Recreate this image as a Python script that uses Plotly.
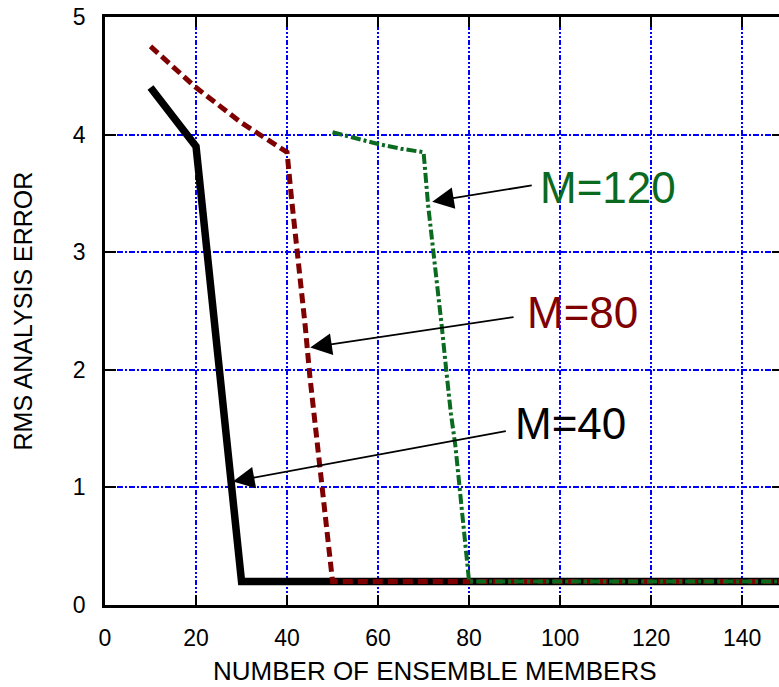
import plotly.graph_objects as go

# ---- data ----
m40_x = [10, 20, 30, 40, 50, 60, 70, 80, 90, 100, 110, 120, 130, 140, 150]
m40_y = [4.4, 3.9, 0.2, 0.2, 0.2, 0.2, 0.2, 0.2, 0.2, 0.2, 0.2, 0.2, 0.2, 0.2, 0.2]

m80_x = [10, 20, 30, 38, 40, 41, 42, 43, 44, 45, 46, 47, 48, 49, 50,
         60, 70, 80, 90, 100, 110, 120, 130, 140, 150]
m80_y = [4.75, 4.4, 4.1, 3.89, 3.85, 3.45, 3.12, 2.7, 2.37, 1.95, 1.6, 1.25, 0.88, 0.5, 0.2,
         0.2, 0.2, 0.2, 0.2, 0.2, 0.2, 0.2, 0.2, 0.2, 0.2]

m120_x = [50, 55, 60, 65, 70, 71, 72, 73, 74, 75, 76, 77, 78, 79, 80,
          90, 100, 110, 120, 130, 140, 150]
m120_y = [4.02, 3.97, 3.92, 3.88, 3.85, 3.4, 3.07, 2.67, 2.37, 1.99, 1.63, 1.35, 0.96, 0.52, 0.2,
          0.2, 0.2, 0.2, 0.2, 0.2, 0.2, 0.2]

x_ticks = [0, 20, 40, 60, 80, 100, 120, 140]
y_ticks = [0, 1, 2, 3, 4, 5]

labels = ["M=40", "M=80", "M=120"]
label_colors = ["#000000", "#7f0000", "#0a6a1f"]
label_pos = [(89.7, 1.54), (92.3, 2.49), (95.2, 3.55)]
arrow_tip = [(28.1, 1.05), (45.1, 2.19), (71.9, 3.43)]
arrow_tail = [(88.4, 1.48), (90.1, 2.45), (94.1, 3.57)]

FONT = "Liberation Sans, Arial, sans-serif"

fig = go.Figure()
fig.add_trace(go.Scatter(x=m40_x, y=m40_y, mode="lines",
                         line=dict(color="#000000", width=7.5)))
fig.add_trace(go.Scatter(x=m80_x, y=m80_y, mode="lines",
                         line=dict(color=label_colors[1], width=5, dash="10px,5px")))
fig.add_trace(go.Scatter(x=m120_x, y=m120_y, mode="lines",
                         line=dict(color=label_colors[2], width=4, dash="10px,3px,3px,3px")))
# right-side inward ticks
fig.add_trace(go.Scatter(x=[None], y=[None], yaxis="y2", showlegend=False))

for (tx, ty), (ax, ay) in zip(arrow_tip, arrow_tail):
    fig.add_annotation(x=tx, y=ty, ax=ax, ay=ay, xref="x", yref="y",
                       axref="x", ayref="y", text="", showarrow=True,
                       arrowhead=2, arrowsize=2.4, arrowwidth=1.8,
                       arrowcolor="#000000")

for lab, col, (lx, ly) in zip(labels, label_colors, label_pos):
    fig.add_annotation(x=lx, y=ly, xref="x", yref="y", text=lab,
                       showarrow=False, xanchor="left", yanchor="middle",
                       font=dict(family=FONT, size=44, color=col))

fig.add_annotation(x=0.49, y=-0.113, xref="paper", yref="paper",
                   text="NUMBER OF ENSEMBLE MEMBERS", showarrow=False,
                   xanchor="center", yanchor="middle",
                   font=dict(family=FONT, size=26, color="#000000"))
fig.add_annotation(x=-0.121, y=0.5, xref="paper", yref="paper",
                   text="RMS ANALYSIS ERROR", showarrow=False, textangle=-90,
                   xanchor="center", yanchor="middle",
                   font=dict(family=FONT, size=25, color="#000000"))

fig.update_layout(
    width=779, height=687,
    margin=dict(l=105, r=0, t=17, b=82),
    paper_bgcolor="white", plot_bgcolor="white",
    showlegend=False,
    font=dict(family=FONT, color="#000000"),
    xaxis=dict(range=[0, 148.1], tickvals=x_ticks, ticks="inside", ticklen=10,
               tickwidth=2, tickcolor="#000000", showline=True, linewidth=2.5,
               linecolor="#000000", mirror="ticks", showgrid=True,
               gridcolor="#0000ff", gridwidth=2, griddash="2px,2px,2px,2px,5px,2px",
               zeroline=False, tickfont=dict(size=23, family=FONT),
               ticklabelstandoff=11),
    yaxis=dict(range=[0, 5], tickvals=y_ticks, ticks="inside", ticklen=11,
               tickwidth=2, tickcolor="#000000", showline=True, linewidth=2.5,
               linecolor="#000000", showgrid=True, gridcolor="#0000ff",
               gridwidth=2, griddash="6px,2px,2px,2px", zeroline=False,
               tickfont=dict(size=23, family=FONT), ticklabelstandoff=12),
    yaxis2=dict(range=[0, 5], tickvals=y_ticks, overlaying="y", side="right",
                ticks="inside", ticklen=7, tickwidth=2, tickcolor="#000000",
                showticklabels=False, showgrid=False, showline=False,
                zeroline=False),
)

fig.write_html("out.html", config={"displayModeBar": False},
               post_script="document.body.style.margin='0';document.body.style.overflow='hidden';")
